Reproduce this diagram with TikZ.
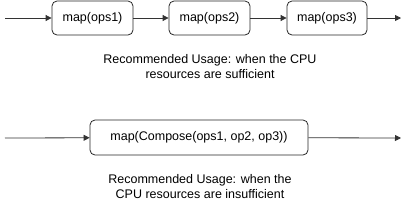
\documentclass[tikz,border=0pt]{standalone}
\usepackage{fontspec}
\setmainfont{Liberation Sans}
\usetikzlibrary{arrows.meta}
\begin{document}
\begin{tikzpicture}[x=1pt,y=-1pt,
  opbox/.style={draw=black!85,rounded corners=5pt,line width=0.8pt,inner sep=0pt,font=\fontsize{12.5}{14}\selectfont},
  flow/.style={draw=black!80,line width=0.8pt,-{Triangle[length=6pt,width=6pt]}},
  note/.style={font=\fontsize{12.5}{15}\selectfont,align=center,inner sep=0pt}]
\useasboundingbox (0,0) rectangle (408,218);
% row 1
\coordinate (s1) at (5,18);
\coordinate (e1) at (401,18);
\node[opbox,minimum width=81pt,minimum height=34pt] (b1) at (92.5,18) {map(ops1)};
\node[opbox,minimum width=81pt,minimum height=34pt] (b2) at (209.5,18) {map(ops2)};
\node[opbox,minimum width=80pt,minimum height=34pt] (b3) at (327,18) {map(ops3)};
\draw[flow] (s1) -- (b1);
\draw[flow] (b1) -- (b2);
\draw[flow] (b2) -- (b3);
\draw[flow] (b3) -- (e1);
\node[note] (t1) at (210,67) {Recommended Usage: when the CPU\\resources are sufficient};
% row 2
\coordinate (s2) at (5,138);
\coordinate (e2) at (401,138);
\node[opbox,minimum width=218pt,minimum height=35pt] (c1) at (199,137.5) {map(Compose(ops1, op2, op3))};
\draw[flow] (s2) -- (c1);
\draw[flow] (c1) -- (e2);
\node[note] (t2) at (200,186.5) {Recommended Usage: when the\\CPU resources are insufficient};
\end{tikzpicture}
\end{document}
